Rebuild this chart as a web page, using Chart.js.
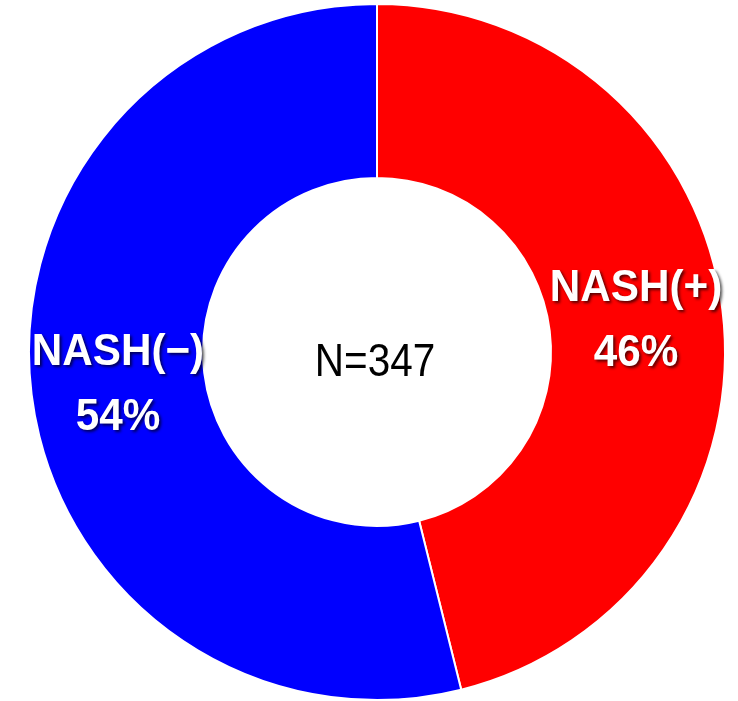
<!DOCTYPE html>
<html>
<head>
<meta charset="utf-8">
<script src="https://cdn.jsdelivr.net/npm/chart.js@4"></script>
<style>
  html, body { margin: 0; padding: 0; background: #fff; }
  #wrap { width: 738px; height: 701px; }
</style>
</head>
<body>
<div id="wrap"><canvas id="nash_donut"></canvas></div>
<script>
// ---- data
const sliceLabels = ['NASH(+)', 'NASH(\u2212)'];
const sliceCounts = [160, 187];
const sliceColors = ['#FF0000', '#0000FF'];
const totalN      = 347;

// ---- label plugin (name + percent inside each slice, N in the hole)
const sliceLabelPlugin = {
    id: 'sliceLabels',
    afterDatasetsDraw(chart) {
        const ctx  = chart.ctx;
        const meta = chart.getDatasetMeta(0);
        const sum  = sliceCounts.reduce((a, b) => a + b, 0);
        const font = '"Liberation Sans", Arial, sans-serif';

        ctx.save();
        ctx.textAlign = 'center';
        ctx.textBaseline = 'middle';
        meta.data.forEach((arc, i) => {
            const pos = arc.tooltipPosition();
            const pct = Math.round(sliceCounts[i] / sum * 100) + '%';
            ctx.save();
            ctx.translate(pos.x, pos.y);
            ctx.scale(0.96, 1);
            ctx.fillStyle = '#ffffff';
            ctx.shadowColor = 'rgba(0,0,0,0.65)';
            ctx.shadowOffsetX = 2;
            ctx.shadowOffsetY = 2;
            ctx.shadowBlur = 3;
            ctx.font = 'bold 44px ' + font;
            ctx.fillText(sliceLabels[i], 0, -31);
            ctx.fillText(pct, 0, 34);
            ctx.restore();
        });

        const c = meta.data[0];
        ctx.save();
        ctx.translate(c.x - 2, c.y + 11);
        ctx.scale(0.88, 1);
        ctx.fillStyle = '#000000';
        ctx.font = '46px ' + font;
        ctx.fillText('N=' + totalN, 0, 0);
        ctx.restore();
        ctx.restore();
    }
};

// ---- chart
const ctx = document.getElementById('nash_donut').getContext('2d');
new Chart(ctx, {
    type: 'doughnut',
    data: {
        labels: sliceLabels,
        datasets: [{
            data: sliceCounts,
            backgroundColor: sliceColors,
            borderColor: '#ffffff',
            borderWidth: 2
        }]
    },
    options: {
        responsive: true,
        maintainAspectRatio: false,
        animation: false,
        cutout: '50%',
        layout: { padding: { top: 3, bottom: 0, left: 26, right: 10 } },
        plugins: {
            legend: { display: false },
            tooltip: { enabled: false }
        }
    },
    plugins: [sliceLabelPlugin]
});
</script>
</body>
</html>
